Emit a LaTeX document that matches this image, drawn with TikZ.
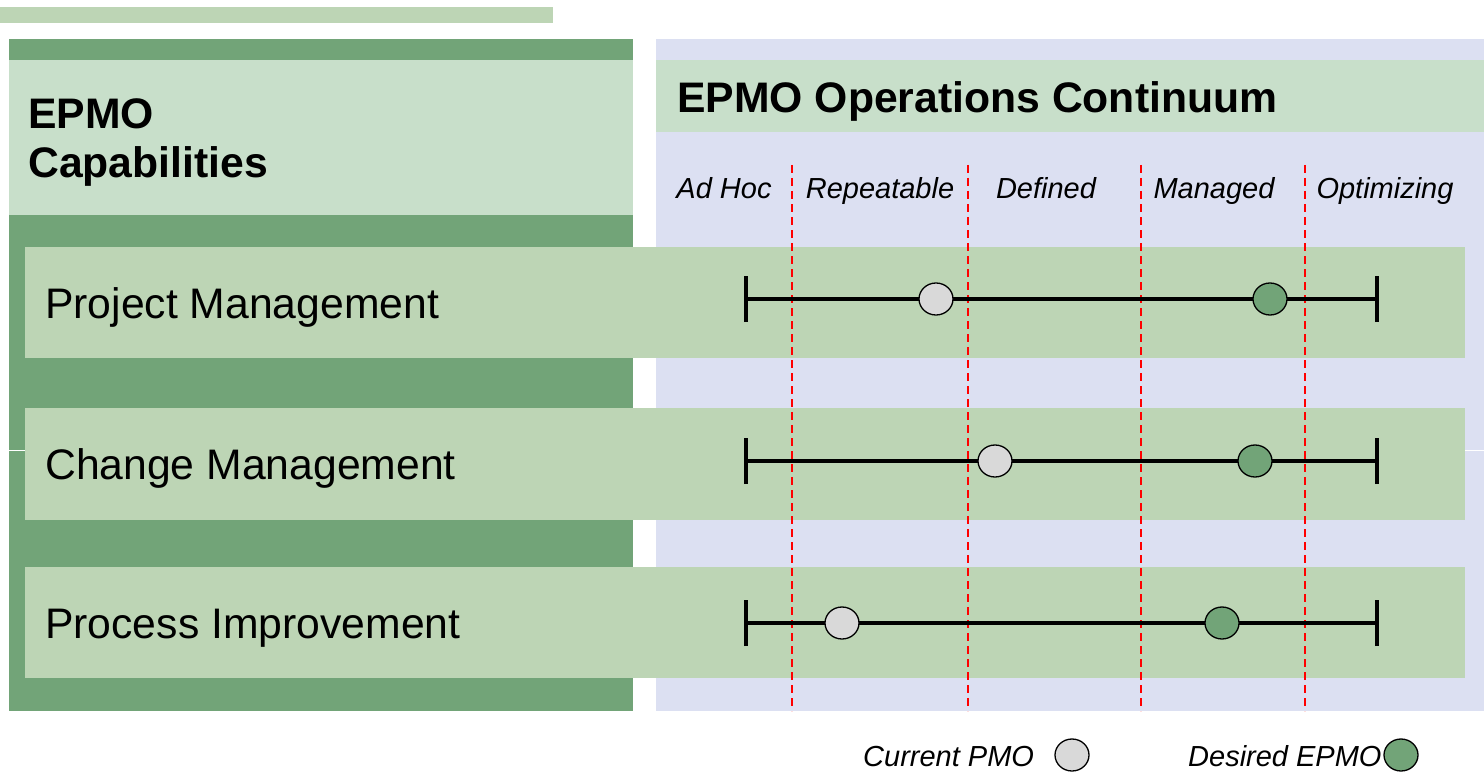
\documentclass[tikz,border=0pt]{standalone}
\usepackage{fontspec}
\setmainfont{Liberation Sans}
\usetikzlibrary{positioning,shapes.geometric}

\definecolor{darkgreen}{RGB}{114,164,120}
\definecolor{headgreen}{RGB}{200,223,202}
\definecolor{rowgreen}{RGB}{189,213,181}
\definecolor{lavender}{RGB}{220,224,242}
\definecolor{dotgrey}{RGB}{217,217,217}

\begin{document}
\begin{tikzpicture}[x=1pt,y=-1pt,
                    big label/.style={font=\fontsize{42.7}{46}\selectfont,anchor=base west,inner sep=0pt},
                    head label/.style={big label,font=\fontsize{42.7}{50}\selectfont\bfseries},
                    stage label/.style={font=\fontsize{29}{32}\selectfont\itshape,anchor=base,inner sep=0pt},
                    scale line/.style={line width=3.3pt},
                    phase line/.style={red,line width=1.4pt,dash pattern=on 8pt off 5pt},
                    dot/.style={ellipse,draw,line width=1.3pt,minimum width=34pt,minimum height=32pt,inner sep=0pt},
                    current dot/.style={dot,fill=dotgrey},
                    desired dot/.style={dot,fill=darkgreen}]

  \useasboundingbox (0,0) rectangle (1484,773);

  % panels
  \fill[rowgreen] (0,7) rectangle (553,23);
  \fill[darkgreen] (9,39) rectangle (633,711);
  \fill[headgreen] (9,60) rectangle (633,215);
  \fill[lavender] (656,39) rectangle (1484,711);
  \fill[headgreen] (656,60) rectangle (1484,132);
  \draw[white,line width=1pt] (0,450) -- (1484,450);

  \node[head label] (caphead) at (28,129) {EPMO};
  \node[head label] (capsub) at (28,178) {Capabilities};
  \node[head label] (conthead) at (677,113) {EPMO Operations Continuum};

  \node[stage label] (adhoc) at (724,198) {Ad Hoc};
  \node[stage label] (repeat) at (880,198) {Repeatable};
  \node[stage label] (defined) at (1046,198) {Defined};
  \node[stage label] (managed) at (1214,198) {Managed};
  \node[stage label] (optim) at (1385,198) {Optimizing};

  % capability rows
  \fill[rowgreen] (25,247) rectangle (1465,358);
  \fill[rowgreen] (25,408) rectangle (1465,520);
  \fill[rowgreen] (25,567) rectangle (1465,678);

  \node[big label] (projmgmt) at (45,318) {Project Management};
  \node[big label] (chgmgmt) at (45,479) {Change Management};
  \node[big label] (procimp) at (45,638) {Process Improvement};

  % phase boundaries
  \foreach \px/\nm in {792/a,968/b,1141/c,1305/d}{
    \coordinate (top\nm) at (\px,165);
    \coordinate (bot\nm) at (\px,711);
    \draw[phase line] (top\nm) -- (bot\nm);
  }

  % scales
  \coordinate (l1) at (746,299);  \coordinate (r1) at (1377,299);
  \coordinate (l2) at (746,461);  \coordinate (r2) at (1377,461);
  \coordinate (l3) at (746,623);  \coordinate (r3) at (1377,623);

  \draw[scale line] (l1) -- (r1);
  \draw[scale line] (l2) -- (r2);
  \draw[scale line] (l3) -- (r3);
  \draw[scale line] ([yshift=-23pt]l1) -- ([yshift=23pt]l1);
  \draw[scale line] ([yshift=-23pt]r1) -- ([yshift=23pt]r1);
  \draw[scale line] ([yshift=-23pt]l2) -- ([yshift=23pt]l2);
  \draw[scale line] ([yshift=-23pt]r2) -- ([yshift=23pt]r2);
  \draw[scale line] ([yshift=-23pt]l3) -- ([yshift=23pt]l3);
  \draw[scale line] ([yshift=-23pt]r3) -- ([yshift=23pt]r3);

  \node[current dot] (cur1) at (936,299) {};
  \node[desired dot] (des1) at (1270,299) {};
  \node[current dot] (cur2) at (995,461) {};
  \node[desired dot] (des2) at (1255,461) {};
  \node[current dot] (cur3) at (842,623) {};
  \node[desired dot] (des3) at (1222,623) {};

  % legend
  \node[stage label,anchor=base west] (curlab) at (863,766) {Current PMO};
  \node[current dot] (curkey) at (1072,755) {};
  \node[stage label,anchor=base west] (deslab) at (1188,766) {Desired EPMO};
  \node[desired dot] (deskey) at (1401,755) {};

\end{tikzpicture}
\end{document}
